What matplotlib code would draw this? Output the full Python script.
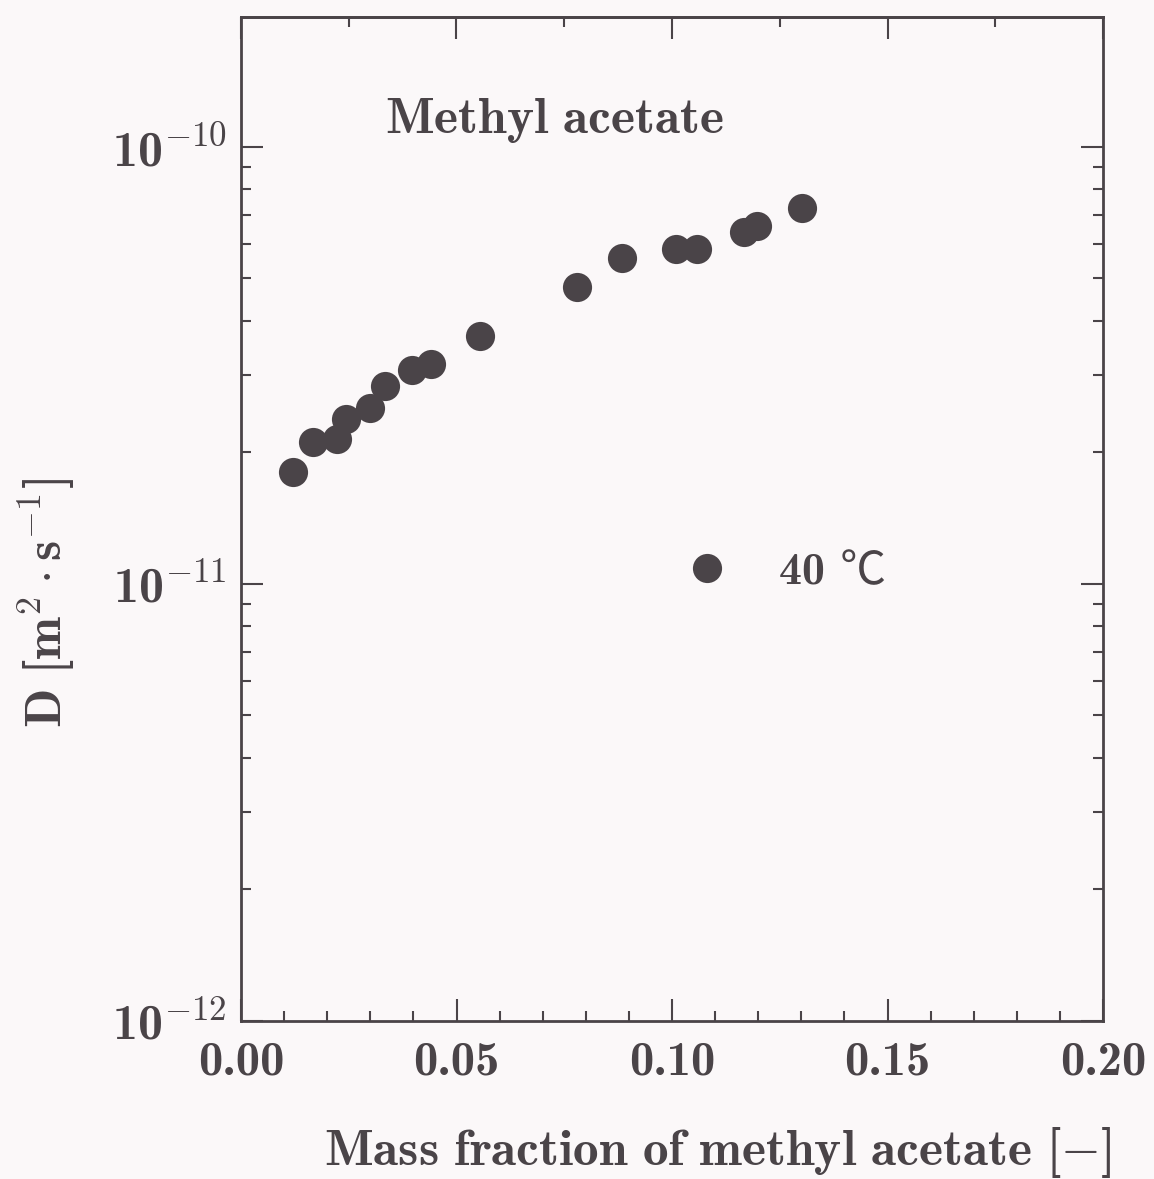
import numpy as np
import matplotlib
matplotlib.use('Agg')
import matplotlib.pyplot as plt
from matplotlib.ticker import MultipleLocator, LogLocator, FixedLocator, FuncFormatter, NullFormatter

# 40 C data, methyl acetate
mass_fraction = [0.0121, 0.0166, 0.0222, 0.0244, 0.0299, 0.0334, 0.0396, 0.0441,
                 0.0555, 0.0780, 0.0883, 0.1009, 0.1057, 0.1168, 0.1198, 0.1302]
diffusivity = [1.80e-11, 2.11e-11, 2.15e-11, 2.39e-11, 2.52e-11, 2.84e-11, 3.08e-11, 3.19e-11,
               3.69e-11, 4.77e-11, 5.56e-11, 5.84e-11, 5.84e-11, 6.38e-11, 6.60e-11, 7.24e-11]
series_label = '40 ℃'
x_ticks = [0.00, 0.05, 0.10, 0.15, 0.20]
y_ticks = [1e-12, 1e-11, 1e-10]

ink = '#4a4448'
bg = '#fbf8f9'

plt.rcParams['font.family'] = 'cmb10'
plt.rcParams['mathtext.fontset'] = 'custom'
plt.rcParams['mathtext.rm'] = 'cmr10'
plt.rcParams['mathtext.bf'] = 'cmb10'
plt.rcParams['mathtext.it'] = 'cmmi10'
plt.rcParams['mathtext.fallback'] = 'cm'
plt.rcParams['axes.unicode_minus'] = True

fig = plt.figure(figsize=(11.54, 11.79), dpi=100, facecolor=bg)
ax = fig.add_axes([241/1154, 1-1021/1179, 862/1154, 1004/1179], facecolor=bg)

ax.plot(mass_fraction, diffusivity, 'o', ms=21, mew=0, color=ink, label=series_label)

ax.set_yscale('log')
ax.set_xlim(0, 0.2)
ax.set_ylim(1e-12, 10**-9.703)

for s in ax.spines.values():
    s.set_linewidth(2.0)
    s.set_color(ink)

ax.xaxis.set_minor_locator(MultipleLocator(0.01))
ax.set_xticks(x_ticks)
ax.set_xticklabels(['%.2f' % v for v in x_ticks])
ax.yaxis.set_major_locator(FixedLocator(y_ticks))
ax.yaxis.set_minor_locator(LogLocator(base=10, subs=np.arange(2, 10), numticks=10))
ax.yaxis.set_minor_formatter(NullFormatter())
ax.yaxis.set_major_formatter(FuncFormatter(
    lambda v, p: r'$\mathbf{10}^{%d}$' % int(round(np.log10(v)))))

ax.tick_params(which='both', direction='in', top=False, right=True,
               color=ink, labelcolor=ink, width=1.5)
ax.tick_params(which='major', length=16)
ax.tick_params(which='minor', length=7)
ax.tick_params(axis='x', which='major', labelsize=35, pad=15)
ax.tick_params(axis='y', which='major', labelsize=36, pad=10)

# top axis has its own tick spacing
top = ax.secondary_xaxis('top')
top.xaxis.set_major_locator(MultipleLocator(0.05))
top.xaxis.set_minor_locator(MultipleLocator(0.025))
top.xaxis.set_major_formatter(NullFormatter())
top.tick_params(which='both', direction='in', color=ink, width=1.5)
top.tick_params(which='major', length=16)
top.tick_params(which='minor', length=7)
top.spines['top'].set_linewidth(2.0)
top.spines['top'].set_color(ink)

ax.text(0.167, 0.884, r'$\mathbf{Methyl\ acetate}$', transform=ax.transAxes,
        fontsize=37, color=ink, ha='left', va='baseline')

leg = ax.legend(loc='center left', bbox_to_anchor=(0.488, 0.447), frameon=False,
                borderpad=0, borderaxespad=0, handlelength=2, handletextpad=0.55,
                prop={'family': ['cmb10', 'Noto Sans CJK JP'], 'size': 33})
for t in leg.get_texts():
    t.set_color(ink)

fig.text(46/1154, 1-603/1179, r'$\mathbf{D\ [m}^{2}\cdot\mathbf{s}^{-1}\mathbf{]}$',
         rotation=90, ha='center', va='center', fontsize=37, color=ink)
fig.text(718/1154, 1-1152/1179, r'$\mathbf{Mass\ fraction\ of\ methyl\ acetate\ [-]}$',
         ha='center', va='center', fontsize=37, color=ink)

fig.savefig('out.png', dpi=100, facecolor=bg)
